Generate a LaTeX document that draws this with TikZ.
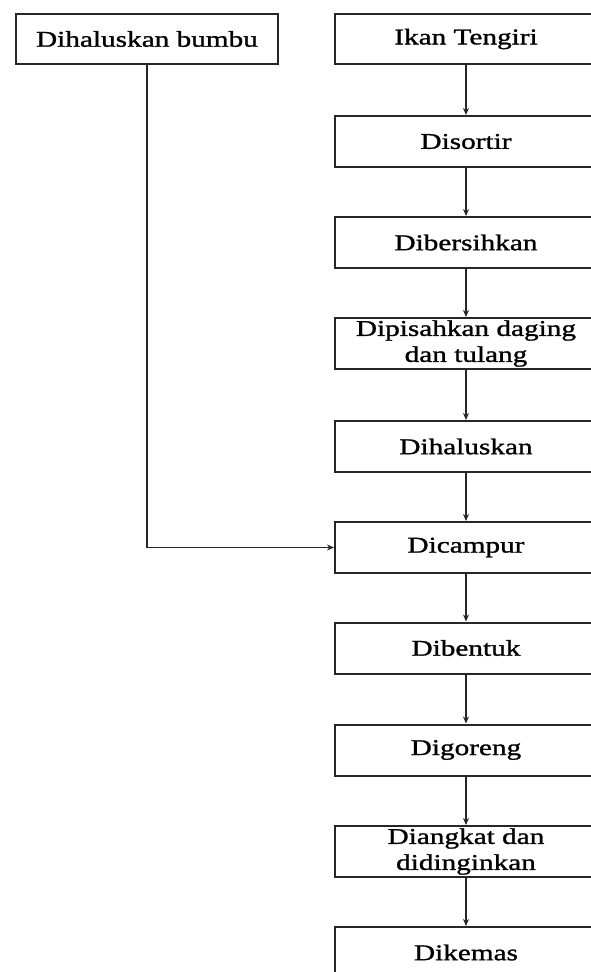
\documentclass[tikz,border=0pt]{standalone}
\usepackage{fontspec}
\setmainfont{Liberation Serif}[FakeStretch=1.3,FakeBold=1.2,AutoFakeBold=1.2]
\usetikzlibrary{arrows.meta}

\begin{document}
\begin{tikzpicture}[x=1pt,y=-1pt,
  stepbox/.style={draw=black!85,line width=2pt,fill=white,
    minimum width=262pt,minimum height=51pt,inner sep=0pt,align=center,
    font=\fontsize{22.5}{26}\selectfont\bfseries},
  flow/.style={draw=black!85,line width=1.6pt,-{Stealth[length=7pt,width=6pt]}}]
  \useasboundingbox (0,0) rectangle (591,972);
  \fill[white] (0,0) rectangle (591,972);
  \clip (0,0) rectangle (591,972);

  % spice branch
  \node[stepbox,minimum height=50pt] (bumbu) at (147,39) {Dihaluskan bumbu};

  % main process column
  \node[stepbox,minimum height=50pt] (ikan) at (466,39)    {Ikan Tengiri};
  \node[stepbox] (sortir)   at (466,141.5) {Disortir};
  \node[stepbox] (bersih)   at (466,242.5) {Dibersihkan};
  \node[stepbox] (pisah)    at (466,343.5) {Dipisahkan daging\\dan tulang};
  \node[stepbox] (halus)    at (466,446.5) {Dihaluskan};
  \node[stepbox] (campur)   at (466,547.5) {Dicampur};
  \node[stepbox] (bentuk)   at (466,648)   {Dibentuk};
  \node[stepbox] (goreng)   at (466,750)   {Digoreng};
  \node[stepbox] (angkat)   at (466,851.5) {Diangkat dan\\didinginkan};
  \node[stepbox] (kemas)    at (466,952.5) {Dikemas};

  \draw[flow] (ikan)   -- (sortir);
  \draw[flow] (sortir) -- (bersih);
  \draw[flow] (bersih) -- (pisah);
  \draw[flow] (pisah)  -- (halus);
  \draw[flow] (halus)  -- (campur);
  \draw[flow] (campur) -- (bentuk);
  \draw[flow] (bentuk) -- (goreng);
  \draw[flow] (goreng) -- (angkat);
  \draw[flow] (angkat) -- (kemas);

  % spices join at the mixing step
  \draw[flow] (bumbu.south) |- (campur.west);
\end{tikzpicture}
\end{document}
